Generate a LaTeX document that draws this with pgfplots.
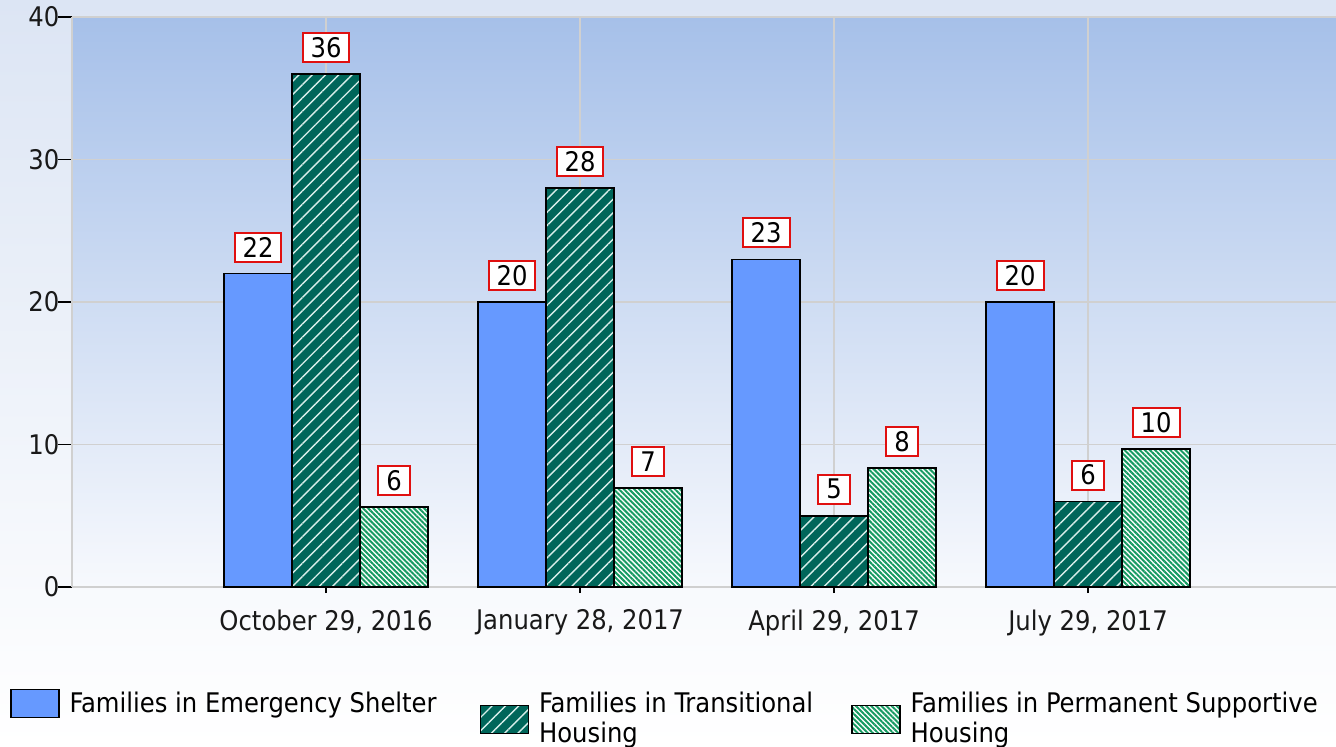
\documentclass[border=0pt]{standalone}
\usepackage{fontspec}
\setmainfont{DejaVu Sans Condensed}
\usepackage{pgfplots}
\pgfplotsset{compat=1.18}
\usetikzlibrary{patterns.meta}

\definecolor{esblue}{HTML}{6699FF}
\definecolor{thteal}{HTML}{00665A}
\definecolor{thstripe}{HTML}{D8EEEA}
\definecolor{pshgreen}{HTML}{169A62}
\definecolor{plottop}{HTML}{A6C0E9}
\definecolor{plotbot}{HTML}{F7F9FD}
\definecolor{outtop}{HTML}{DCE5F4}
\definecolor{gridc}{HTML}{D0D0D0}
\definecolor{lblred}{HTML}{E01010}

\pgfplotsset{
  legA/.style={legend image code/.code={\draw[##1] (0pt,-7pt) rectangle (24pt,7pt);}},
  legB/.style={legend image code/.code={\draw[##1] (0pt,-15pt) rectangle (24pt,-1pt);}},
}

\begin{document}
\begin{tikzpicture}[font=\fontsize{13.5}{15}\selectfont]
\fill[top color=outtop, bottom color=white] (-36pt,-79.5pt) rectangle (632pt,293.5pt);
\path[use as bounding box] (-36pt,-79.5pt) rectangle (632pt,293.5pt);
\begin{axis}[
  at={(0,0)}, anchor=south west,
  scale only axis, width=632pt, height=285pt,
  xmin=-1, xmax=3.976, ymin=0, ymax=40,
  ybar=0pt, bar width=34pt,
  axis background/.style={top color=plottop, bottom color=plotbot},
  axis x line*=bottom, axis y line*=left,
  axis line style={gridc, line width=1pt},
  xtick={0,1,2,3},
  xticklabels={{October 29, 2016},{January 28, 2017},{April 29, 2017},{July 29, 2017}},
  ytick={0,10,20,30,40},
  grid=major, major grid style={gridc, line width=0.8pt},
  tick align=outside,
  ytick style={black, line width=0.8pt, /pgfplots/major tick length=7pt},
  xtick style={black, line width=0.8pt, /pgfplots/major tick length=3pt},
  xticklabel style={yshift=-3.5pt, text=black!90},
  yticklabel style={xshift=1.5pt, text=black!90},
  /pgf/number format/assume math mode=true,
  nodes near coords={\pgfmathprintnumber[fixed,precision=0]{\pgfplotspointmeta}},
  every node near coord/.append style={draw=lblred, line width=1pt, fill=white, text=black,
     inner xsep=4pt, inner ysep=0pt, minimum height=14.5pt, anchor=south, yshift=5.5pt},
  legend columns=3,
  legend style={draw=none, fill=none, at={(-0.049,-0.1785)}, anchor=north west,
     inner sep=0pt, outer sep=0pt, nodes={inner sep=0pt},
     /tikz/every odd column/.style={column sep=5pt}},
]
\addplot[draw=black, line width=0.75pt, fill=esblue, legA]
  coordinates {(0,22) (1,20) (2,23) (3,20)};
\addlegendentry{\parbox[t]{205pt}{\raggedright Families in Emergency Shelter}}
\addplot[draw=black, line width=0.75pt, fill=thteal,
  postaction={pattern={Lines[angle=45, distance=4.7pt, line width=0.7pt]}, pattern color=thstripe}, legB]
  coordinates {(0,36) (1,28) (2,5) (3,6)};
\addlegendentry{\parbox[t]{156pt}{\raggedright Families in Transitional\\Housing}}
\addplot[draw=black, line width=0.75pt, fill=white,
  postaction={pattern={Lines[angle=-45, distance=1.8pt, line width=1pt]}, pattern color=pshgreen}, legB]
  coordinates {(0,5.6) (1,6.95) (2,8.35) (3,9.7)};
\addlegendentry{\parbox[t]{225pt}{\raggedright Families in Permanent Supportive\\Housing}}
\end{axis}
\end{tikzpicture}
\end{document}
